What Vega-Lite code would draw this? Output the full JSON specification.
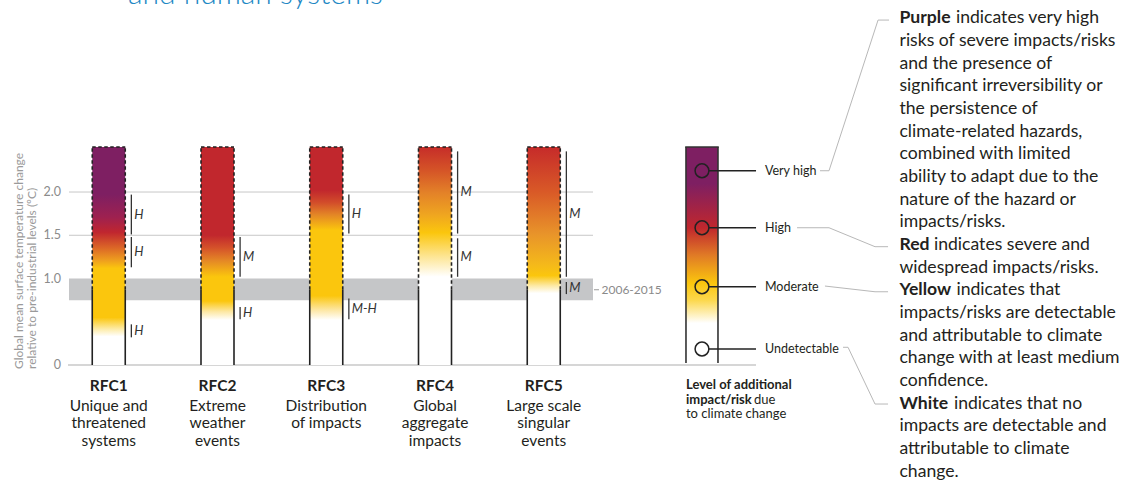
{
  "$schema": "https://vega.github.io/schema/vega-lite/v6.json",
  "width": 1127,
  "height": 483,
  "autosize": {"type": "none"},
  "padding": 0,
  "background": "white",
  "config": {"view": {"stroke": null}, "axis": {"domain": false, "ticks": false, "labels": false, "grid": false, "titleOpacity": 0}, "text": {"font": "Lato"}},
  "datasets": {
    "rfc": [
      {"rfc": "RFC1", "slot": 1, "base": 0, "top": 2.52, "now": 0.87, "fade": 0.33, "nameAt": -0.297, "descAt": -0.526, "desc": "Unique and\nthreatened\nsystems"},
      {"rfc": "RFC2", "slot": 2, "base": 0, "top": 2.52, "now": 0.87, "fade": 0.52, "nameAt": -0.297, "descAt": -0.526, "desc": "Extreme\nweather\nevents"},
      {"rfc": "RFC3", "slot": 3, "base": 0, "top": 2.52, "now": 0.87, "fade": 0.52, "nameAt": -0.297, "descAt": -0.526, "desc": "Distribution\nof impacts"},
      {"rfc": "RFC4", "slot": 4, "base": 0, "top": 2.52, "now": 0.87, "fade": 1.02, "nameAt": -0.297, "descAt": -0.526, "desc": "Global\naggregate\nimpacts"},
      {"rfc": "RFC5", "slot": 5, "base": 0, "top": 2.52, "now": 0.87, "fade": 0.83, "nameAt": -0.297, "descAt": -0.526, "desc": "Large scale\nsingular\nevents"}
    ],
    "conf": [
      {"slot": 1, "lo": 1.51, "hi": 1.97, "mid": 1.74, "level": "H"},
      {"slot": 1, "lo": 1.13, "hi": 1.48, "mid": 1.305, "level": "H"},
      {"slot": 1, "lo": 0.32, "hi": 0.47, "mid": 0.395, "level": "H"},
      {"slot": 2, "lo": 1.02, "hi": 1.48, "mid": 1.25, "level": "M"},
      {"slot": 2, "lo": 0.53, "hi": 0.67, "mid": 0.6, "level": "H"},
      {"slot": 3, "lo": 1.52, "hi": 1.97, "mid": 1.745, "level": "H"},
      {"slot": 3, "lo": 0.53, "hi": 0.77, "mid": 0.645, "level": "M-H"},
      {"slot": 4, "lo": 1.52, "hi": 2.47, "mid": 2.0, "level": "M"},
      {"slot": 4, "lo": 1.02, "hi": 1.465, "mid": 1.245, "level": "M"},
      {"slot": 5, "lo": 1.02, "hi": 2.47, "mid": 1.745, "level": "M"},
      {"slot": 5, "lo": 0.82, "hi": 0.96, "mid": 0.89, "level": "M"}
    ],
    "grid": [{"T": 1.5, "from": 0.6345, "to": 5.453}, {"T": 2.0, "from": 0.6345, "to": 5.453}],
    "baseline": [{"T": 0, "from": 0.625, "to": 6.952}],
    "ticks": [
      {"T": 0, "label": "0", "at": 0.561},
      {"T": 1, "label": "1.0", "at": 0.561},
      {"T": 1.5, "label": "1.5", "at": 0.561},
      {"T": 2, "label": "2.0", "at": 0.561}
    ],
    "ytitle": [{"title": "Global mean surface temperature change\nrelative to pre-industrial levels (ºC)", "at": 0.2069, "T": -0.046}],
    "band": [{"period": "2006-2015", "lo": 0.75, "hi": 1.0, "from": 0.6345, "to": 5.453, "mid": 0.87, "tickFrom": 5.462, "tickTo": 5.508, "labelAt": 5.531}],
    "legendbar": [{"slot": 6.455, "bottom": 0.023, "top": 2.52}],
    "levels": [
      {"level": "Very high", "T": 2.246, "slot": 6.455, "from": 6.52, "to": 6.952, "labelAt": 7.034},
      {"level": "High", "T": 1.587, "slot": 6.455, "from": 6.52, "to": 6.952, "labelAt": 7.034},
      {"level": "Moderate", "T": 0.905, "slot": 6.455, "from": 6.52, "to": 6.952, "labelAt": 7.034},
      {"level": "Undetectable", "T": 0.185, "slot": 6.455, "from": 6.52, "to": 6.952, "labelAt": 7.034}
    ],
    "caption": [
      {"cap": "Level of additional", "T": -0.281, "at": 6.308},
      {"cap": "impact/risk", "T": -0.451, "at": 6.308},
      {"cap": "due", "T": -0.451, "at": 6.308},
      {"cap": "to climate change", "T": -0.616, "at": 6.308}
    ],
    "leaders": [
      {"grp": "vh", "ord": 1, "xu": 7.54, "T": 2.246}, {"grp": "vh", "ord": 2, "xu": 7.623, "T": 2.246}, {"grp": "vh", "ord": 3, "xu": 8.074, "T": 3.988}, {"grp": "vh", "ord": 4, "xu": 8.175, "T": 3.988},
      {"grp": "h", "ord": 1, "xu": 7.329, "T": 1.587}, {"grp": "h", "ord": 2, "xu": 7.623, "T": 1.587}, {"grp": "h", "ord": 3, "xu": 8.046, "T": 1.368}, {"grp": "h", "ord": 4, "xu": 8.166, "T": 1.368},
      {"grp": "m", "ord": 1, "xu": 7.586, "T": 0.913}, {"grp": "m", "ord": 2, "xu": 8.046, "T": 0.847}, {"grp": "m", "ord": 3, "xu": 8.166, "T": 0.847},
      {"grp": "u", "ord": 1, "xu": 7.752, "T": 0.205}, {"grp": "u", "ord": 2, "xu": 7.798, "T": 0.205}, {"grp": "u", "ord": 3, "xu": 8.046, "T": -0.451}, {"grp": "u", "ord": 4, "xu": 8.166, "T": -0.451}
    ],
    "paras": [
      {"lead": "Purple", "T": 3.95, "at": 8.271, "rest": "indicates very high", "body": "\nrisks of severe impacts/risks\nand the presence of\nsignificant irreversibility or\nthe persistence of\nclimate-related hazards,\ncombined with limited\nability to adapt due to the\nnature of the hazard or\nimpacts/risks."},
      {"lead": "Red", "T": 1.329, "at": 8.271, "rest": "indicates severe and", "body": "\nwidespread impacts/risks."},
      {"lead": "Yellow", "T": 0.805, "at": 8.271, "rest": "indicates that", "body": "\nimpacts/risks are detectable\nand attributable to climate\nchange with at least medium\nconfidence."},
      {"lead": "White", "T": -0.505, "at": 8.271, "rest": "indicates that no", "body": "\nimpacts are detectable and\nattributable to climate\nchange."}
    ],
    "title": [{"title": "and human systems", "at": 1.177, "T": 4.174}]
  },
  "layer": [
    {
      "data": {"name": "grid"},
      "mark": {"type": "rule", "color": "#c8c8c8", "strokeWidth": 1},
      "encoding": {
        "x": {"field": "from", "type": "quantitative", "scale": {"domain": [0, 10.3632], "nice": false, "zero": false}, "axis": null},
        "x2": {"field": "to"},
        "y": {"field": "T", "type": "quantitative", "scale": {"domain": [-1.364, 4.22], "nice": false, "zero": false}, "axis": null}
      }
    },
    {
      "data": {"name": "baseline"},
      "mark": {"type": "rule", "color": "#c8c8c8", "strokeWidth": 1.6},
      "encoding": {
        "x": {"field": "from", "type": "quantitative"},
        "x2": {"field": "to"},
        "y": {"field": "T", "type": "quantitative"}
      }
    },
    {
      "data": {"name": "band"},
      "mark": {"type": "rect", "color": "#c5c6c8"},
      "encoding": {
        "x": {"field": "from", "type": "quantitative"},
        "x2": {"field": "to"},
        "y": {"field": "lo", "type": "quantitative"},
        "y2": {"field": "hi"}
      }
    },
    {
      "data": {"name": "band"},
      "mark": {"type": "rule", "color": "#9a9a9a", "strokeWidth": 1},
      "encoding": {
        "x": {"field": "tickFrom", "type": "quantitative"},
        "x2": {"field": "tickTo"},
        "y": {"field": "mid", "type": "quantitative"}
      }
    },
    {
      "data": {"name": "band"},
      "mark": {"type": "text", "align": "left", "baseline": "middle", "fontSize": 12, "color": "#8a8a8a"},
      "encoding": {
        "x": {"field": "labelAt", "type": "quantitative"},
        "y": {"field": "mid", "type": "quantitative"},
        "text": {"field": "period", "type": "nominal"}
      }
    },
    {
      "data": {"name": "rfc"},
      "mark": {"type": "rect", "color": "#ffffff", "xOffset": -16.5, "x2Offset": 16.5},
      "encoding": {
        "x": {"field": "slot", "type": "quantitative"},
        "x2": {"field": "slot"},
        "y": {"field": "base", "type": "quantitative"},
        "y2": {"field": "top"}
      }
    },
    {
      "data": {"name": "rfc"},
      "transform": [{"filter": "datum.rfc === 'RFC1'"}],
      "mark": {"type": "rect", "xOffset": -16.5, "x2Offset": 16.5, "fill": {"gradient": "linear", "x1": 0, "y1": 0, "x2": 0, "y2": 1, "stops": [
        {"offset": 0, "color": "#7e1f62"}, {"offset": 0.25, "color": "#7e1f62"}, {"offset": 0.37, "color": "#9e2150"}, {"offset": 0.45, "color": "#c0262f"}, {"offset": 0.53, "color": "#db6527"}, {"offset": 0.6, "color": "#efa01e"}, {"offset": 0.64, "color": "#fbc60d"}, {"offset": 0.9, "color": "#fbc60d"}, {"offset": 0.96, "color": "#fdeba6"}, {"offset": 1, "color": "#ffffff"}]}},
      "encoding": {
        "x": {"field": "slot", "type": "quantitative"},
        "x2": {"field": "slot"},
        "y": {"field": "fade", "type": "quantitative"},
        "y2": {"field": "top"}
      }
    },
    {
      "data": {"name": "rfc"},
      "transform": [{"filter": "datum.rfc === 'RFC2'"}],
      "mark": {"type": "rect", "xOffset": -16.5, "x2Offset": 16.5, "fill": {"gradient": "linear", "x1": 0, "y1": 0, "x2": 0, "y2": 1, "stops": [
        {"offset": 0, "color": "#c1272d"}, {"offset": 0.51, "color": "#c1272d"}, {"offset": 0.58, "color": "#d4502a"}, {"offset": 0.66, "color": "#e58a25"}, {"offset": 0.75, "color": "#fbc60d"}, {"offset": 0.89, "color": "#fbc60d"}, {"offset": 0.95, "color": "#fde7a0"}, {"offset": 1, "color": "#ffffff"}]}},
      "encoding": {
        "x": {"field": "slot", "type": "quantitative"},
        "x2": {"field": "slot"},
        "y": {"field": "fade", "type": "quantitative"},
        "y2": {"field": "top"}
      }
    },
    {
      "data": {"name": "rfc"},
      "transform": [{"filter": "datum.rfc === 'RFC3'"}],
      "mark": {"type": "rect", "xOffset": -16.5, "x2Offset": 16.5, "fill": {"gradient": "linear", "x1": 0, "y1": 0, "x2": 0, "y2": 1, "stops": [
        {"offset": 0, "color": "#c1272d"}, {"offset": 0.25, "color": "#c1272d"}, {"offset": 0.32, "color": "#d24c2a"}, {"offset": 0.39, "color": "#e38526"}, {"offset": 0.48, "color": "#fbc60d"}, {"offset": 0.86, "color": "#fbc60d"}, {"offset": 0.94, "color": "#fde6a0"}, {"offset": 1, "color": "#ffffff"}]}},
      "encoding": {
        "x": {"field": "slot", "type": "quantitative"},
        "x2": {"field": "slot"},
        "y": {"field": "fade", "type": "quantitative"},
        "y2": {"field": "top"}
      }
    },
    {
      "data": {"name": "rfc"},
      "transform": [{"filter": "datum.rfc === 'RFC4'"}],
      "mark": {"type": "rect", "xOffset": -16.5, "x2Offset": 16.5, "fill": {"gradient": "linear", "x1": 0, "y1": 0, "x2": 0, "y2": 1, "stops": [
        {"offset": 0, "color": "#c62d29"}, {"offset": 0.18, "color": "#d55427"}, {"offset": 0.35, "color": "#e38128"}, {"offset": 0.52, "color": "#efa520"}, {"offset": 0.66, "color": "#fbc60d"}, {"offset": 0.83, "color": "#fde38a"}, {"offset": 1, "color": "#ffffff"}]}},
      "encoding": {
        "x": {"field": "slot", "type": "quantitative"},
        "x2": {"field": "slot"},
        "y": {"field": "fade", "type": "quantitative"},
        "y2": {"field": "top"}
      }
    },
    {
      "data": {"name": "rfc"},
      "transform": [{"filter": "datum.rfc === 'RFC5'"}],
      "mark": {"type": "rect", "xOffset": -16.5, "x2Offset": 16.5, "fill": {"gradient": "linear", "x1": 0, "y1": 0, "x2": 0, "y2": 1, "stops": [
        {"offset": 0, "color": "#c62b2a"}, {"offset": 0.31, "color": "#d95a27"}, {"offset": 0.59, "color": "#e8932a"}, {"offset": 0.8, "color": "#f4b81b"}, {"offset": 0.88, "color": "#fbc60d"}, {"offset": 0.95, "color": "#fdeaa8"}, {"offset": 1, "color": "#ffffff"}]}},
      "encoding": {
        "x": {"field": "slot", "type": "quantitative"},
        "x2": {"field": "slot"},
        "y": {"field": "fade", "type": "quantitative"},
        "y2": {"field": "top"}
      }
    },
    {
      "data": {"name": "rfc"},
      "mark": {"type": "rule", "color": "#222222", "strokeWidth": 1.6, "strokeDash": [3.5, 2.5], "xOffset": -16.5},
      "encoding": {
        "x": {"field": "slot", "type": "quantitative"},
        "y": {"field": "now", "type": "quantitative"},
        "y2": {"field": "top"}
      }
    },
    {
      "data": {"name": "rfc"},
      "mark": {"type": "rule", "color": "#222222", "strokeWidth": 1.6, "strokeDash": [3.5, 2.5], "xOffset": 16.5},
      "encoding": {
        "x": {"field": "slot", "type": "quantitative"},
        "y": {"field": "now", "type": "quantitative"},
        "y2": {"field": "top"}
      }
    },
    {
      "data": {"name": "rfc"},
      "mark": {"type": "rule", "color": "#222222", "strokeWidth": 1.6, "xOffset": -16.5},
      "encoding": {
        "x": {"field": "slot", "type": "quantitative"},
        "y": {"field": "base", "type": "quantitative"},
        "y2": {"field": "now"}
      }
    },
    {
      "data": {"name": "rfc"},
      "mark": {"type": "rule", "color": "#222222", "strokeWidth": 1.6, "xOffset": 16.5},
      "encoding": {
        "x": {"field": "slot", "type": "quantitative"},
        "y": {"field": "base", "type": "quantitative"},
        "y2": {"field": "now"}
      }
    },
    {
      "data": {"name": "rfc"},
      "mark": {"type": "rule", "color": "#222222", "strokeWidth": 1.6, "strokeDash": [3.5, 2.5], "xOffset": -16.5, "x2Offset": 16.5},
      "encoding": {
        "x": {"field": "slot", "type": "quantitative"},
        "x2": {"field": "slot"},
        "y": {"field": "top", "type": "quantitative"}
      }
    },
    {
      "data": {"name": "conf"},
      "mark": {"type": "rule", "color": "#333333", "strokeWidth": 1.3, "xOffset": 22.6},
      "encoding": {
        "x": {"field": "slot", "type": "quantitative"},
        "y": {"field": "lo", "type": "quantitative"},
        "y2": {"field": "hi"}
      }
    },
    {
      "data": {"name": "conf"},
      "mark": {"type": "text", "align": "left", "baseline": "middle", "fontSize": 13, "fontStyle": "italic", "color": "#333333", "dx": 25.5},
      "encoding": {
        "x": {"field": "slot", "type": "quantitative"},
        "y": {"field": "mid", "type": "quantitative"},
        "text": {"field": "level", "type": "nominal"}
      }
    },
    {
      "data": {"name": "rfc"},
      "mark": {"type": "text", "align": "center", "baseline": "alphabetic", "fontSize": 15.5, "fontWeight": "bold", "color": "#231f20"},
      "encoding": {
        "x": {"field": "slot", "type": "quantitative"},
        "y": {"field": "nameAt", "type": "quantitative"},
        "text": {"field": "rfc", "type": "nominal"}
      }
    },
    {
      "data": {"name": "rfc"},
      "mark": {"type": "text", "align": "center", "baseline": "alphabetic", "fontSize": 15.5, "lineBreak": "\n", "lineHeight": 17.7, "color": "#231f20"},
      "encoding": {
        "x": {"field": "slot", "type": "quantitative"},
        "y": {"field": "descAt", "type": "quantitative"},
        "text": {"field": "desc", "type": "nominal"}
      }
    },
    {
      "data": {"name": "ticks"},
      "mark": {"type": "text", "align": "right", "baseline": "middle", "fontSize": 12.5, "color": "#8b8b8b"},
      "encoding": {
        "x": {"field": "at", "type": "quantitative"},
        "y": {"field": "T", "type": "quantitative"},
        "text": {"field": "label", "type": "nominal"}
      }
    },
    {
      "data": {"name": "ytitle"},
      "mark": {"type": "text", "align": "left", "baseline": "alphabetic", "angle": 270, "fontSize": 12, "lineBreak": "\n", "lineHeight": 13.4, "color": "#9a9a9a"},
      "encoding": {
        "x": {"field": "at", "type": "quantitative"},
        "y": {"field": "T", "type": "quantitative"},
        "text": {"field": "title", "type": "nominal"}
      }
    },
    {
      "data": {"name": "legendbar"},
      "mark": {"type": "rect", "xOffset": -16, "x2Offset": 16, "fill": {"gradient": "linear", "x1": 0, "y1": 0, "x2": 0, "y2": 1, "stops": [
        {"offset": 0, "color": "#7e1f62"}, {"offset": 0.17, "color": "#7e1f62"}, {"offset": 0.375, "color": "#c1272d"}, {"offset": 0.5, "color": "#e07a26"}, {"offset": 0.63, "color": "#fbc60d"}, {"offset": 0.71, "color": "#fcd84e"}, {"offset": 0.815, "color": "#ffffff"}, {"offset": 1, "color": "#ffffff"}]}},
      "encoding": {
        "x": {"field": "slot", "type": "quantitative"},
        "x2": {"field": "slot"},
        "y": {"field": "bottom", "type": "quantitative"},
        "y2": {"field": "top"}
      }
    },
    {
      "data": {"name": "legendbar"},
      "mark": {"type": "rule", "color": "#333333", "strokeWidth": 1.6, "xOffset": -16},
      "encoding": {
        "x": {"field": "slot", "type": "quantitative"},
        "y": {"field": "bottom", "type": "quantitative"},
        "y2": {"field": "top"}
      }
    },
    {
      "data": {"name": "legendbar"},
      "mark": {"type": "rule", "color": "#333333", "strokeWidth": 1.6, "xOffset": 16},
      "encoding": {
        "x": {"field": "slot", "type": "quantitative"},
        "y": {"field": "bottom", "type": "quantitative"},
        "y2": {"field": "top"}
      }
    },
    {
      "data": {"name": "legendbar"},
      "mark": {"type": "rule", "color": "#333333", "strokeWidth": 1.6, "xOffset": -16.8, "x2Offset": 16.8},
      "encoding": {
        "x": {"field": "slot", "type": "quantitative"},
        "x2": {"field": "slot"},
        "y": {"field": "top", "type": "quantitative"}
      }
    },
    {
      "data": {"name": "levels"},
      "mark": {"type": "rule", "color": "#222222", "strokeWidth": 1.3},
      "encoding": {
        "x": {"field": "from", "type": "quantitative"},
        "x2": {"field": "to"},
        "y": {"field": "T", "type": "quantitative"}
      }
    },
    {
      "data": {"name": "levels"},
      "mark": {"type": "point", "shape": "circle", "filled": false, "size": 190, "color": "#222222", "strokeWidth": 1.5, "opacity": 1},
      "encoding": {
        "x": {"field": "slot", "type": "quantitative"},
        "y": {"field": "T", "type": "quantitative"}
      }
    },
    {
      "data": {"name": "levels"},
      "mark": {"type": "text", "align": "left", "baseline": "middle", "fontSize": 12.5, "color": "#231f20"},
      "encoding": {
        "x": {"field": "labelAt", "type": "quantitative"},
        "y": {"field": "T", "type": "quantitative"},
        "text": {"field": "level", "type": "nominal"}
      }
    },
    {
      "data": {"name": "caption"},
      "transform": [{"filter": "datum.cap === 'Level of additional' || datum.cap === 'impact/risk'"}],
      "mark": {"type": "text", "align": "left", "baseline": "alphabetic", "fontSize": 13, "fontWeight": "bold", "color": "#231f20"},
      "encoding": {
        "x": {"field": "at", "type": "quantitative"},
        "y": {"field": "T", "type": "quantitative"},
        "text": {"field": "cap", "type": "nominal"}
      }
    },
    {
      "data": {"name": "caption"},
      "transform": [{"filter": "datum.cap === 'due'"}],
      "mark": {"type": "text", "align": "left", "baseline": "alphabetic", "fontSize": 13, "color": "#231f20", "dx": 68},
      "encoding": {
        "x": {"field": "at", "type": "quantitative"},
        "y": {"field": "T", "type": "quantitative"},
        "text": {"field": "cap", "type": "nominal"}
      }
    },
    {
      "data": {"name": "caption"},
      "transform": [{"filter": "datum.cap === 'to climate change'"}],
      "mark": {"type": "text", "align": "left", "baseline": "alphabetic", "fontSize": 13, "color": "#231f20"},
      "encoding": {
        "x": {"field": "at", "type": "quantitative"},
        "y": {"field": "T", "type": "quantitative"},
        "text": {"field": "cap", "type": "nominal"}
      }
    },
    {
      "data": {"name": "leaders"},
      "mark": {"type": "line", "color": "#b8b8b8", "strokeWidth": 1},
      "encoding": {
        "x": {"field": "xu", "type": "quantitative"},
        "y": {"field": "T", "type": "quantitative"},
        "detail": {"field": "grp", "type": "nominal"},
        "order": {"field": "ord", "type": "quantitative"}
      }
    },
    {
      "data": {"name": "paras"},
      "mark": {"type": "text", "align": "left", "baseline": "alphabetic", "fontSize": 17.6, "fontWeight": "bold", "color": "#231f20"},
      "encoding": {
        "x": {"field": "at", "type": "quantitative"},
        "y": {"field": "T", "type": "quantitative"},
        "text": {"field": "lead", "type": "nominal"}
      }
    },
    {
      "data": {"name": "paras"},
      "mark": {"type": "text", "align": "left", "baseline": "alphabetic", "fontSize": 17.6, "lineBreak": "\n", "lineHeight": 22.67, "color": "#231f20"},
      "encoding": {
        "x": {"field": "at", "type": "quantitative"},
        "y": {"field": "T", "type": "quantitative"},
        "text": {"field": "body", "type": "nominal"}
      }
    },
    {
      "data": {"name": "paras"},
      "transform": [{"filter": "datum.lead === 'Purple'"}],
      "mark": {"type": "text", "align": "left", "baseline": "alphabetic", "fontSize": 17.6, "color": "#231f20", "dx": 56.5},
      "encoding": {
        "x": {"field": "at", "type": "quantitative"},
        "y": {"field": "T", "type": "quantitative"},
        "text": {"field": "rest", "type": "nominal"}
      }
    },
    {
      "data": {"name": "paras"},
      "transform": [{"filter": "datum.lead === 'Red'"}],
      "mark": {"type": "text", "align": "left", "baseline": "alphabetic", "fontSize": 17.6, "color": "#231f20", "dx": 34.5},
      "encoding": {
        "x": {"field": "at", "type": "quantitative"},
        "y": {"field": "T", "type": "quantitative"},
        "text": {"field": "rest", "type": "nominal"}
      }
    },
    {
      "data": {"name": "paras"},
      "transform": [{"filter": "datum.lead === 'Yellow'"}],
      "mark": {"type": "text", "align": "left", "baseline": "alphabetic", "fontSize": 17.6, "color": "#231f20", "dx": 57},
      "encoding": {
        "x": {"field": "at", "type": "quantitative"},
        "y": {"field": "T", "type": "quantitative"},
        "text": {"field": "rest", "type": "nominal"}
      }
    },
    {
      "data": {"name": "paras"},
      "transform": [{"filter": "datum.lead === 'White'"}],
      "mark": {"type": "text", "align": "left", "baseline": "alphabetic", "fontSize": 17.6, "color": "#231f20", "dx": 54.5},
      "encoding": {
        "x": {"field": "at", "type": "quantitative"},
        "y": {"field": "T", "type": "quantitative"},
        "text": {"field": "rest", "type": "nominal"}
      }
    },
    {
      "data": {"name": "title"},
      "mark": {"type": "text", "align": "left", "baseline": "alphabetic", "fontSize": 30, "fontWeight": 300, "color": "#1e88c4"},
      "encoding": {
        "x": {"field": "at", "type": "quantitative"},
        "y": {"field": "T", "type": "quantitative"},
        "text": {"field": "title", "type": "nominal"}
      }
    }
  ]
}
